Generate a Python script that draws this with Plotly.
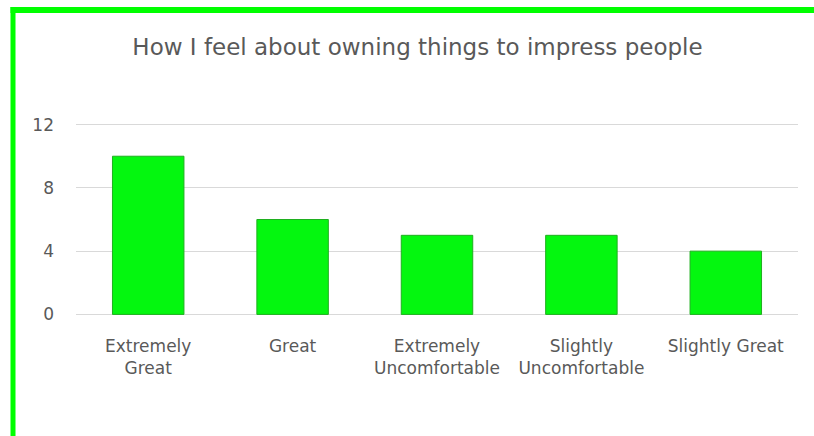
import plotly.graph_objects as go

categories = ["Extremely<br>Great", "Great", "Extremely<br>Uncomfortable", "Slightly<br>Uncomfortable", "Slightly Great"]
values = [10, 6, 5, 5, 4]
y_ticks = [0, 4, 8, 12]
title_text = "How I feel about owning things to impress people"

W, H = 814, 436
K = 189 / 12.0            # pixels per unit on the y axis
PAD = 0.1                 # small range padding so the edge gridlines show
L, R = 76, 16
T = 125 - PAD * K
B = 436 - 314 - PAD * K
pw, ph = W - L - R, H - T - B

def px_x(x):
    return (x - L) / pw

def px_y(y):
    return (H - B - y) / ph

FONT = "DejaVu Sans"

fig = go.Figure(go.Bar(
    x=categories, y=values,
    marker=dict(color="#04F70F", line=dict(color="#1FAF1F", width=1)),
    width=0.495,
))

fig.update_layout(
    width=W, height=H,
    margin=dict(l=L, r=R, t=T, b=B),
    paper_bgcolor="white", plot_bgcolor="white",
    showlegend=False,
    title=dict(text=title_text, x=px_x(417.5), xref="paper", xanchor="center",
               y=1 - 47 / H, yref="container", yanchor="middle",
               font=dict(family=FONT, size=23, color="#595959")),
    font=dict(family=FONT, color="#595959", size=17),
    shapes=[
        dict(type="line", xref="paper", yref="paper", x0=px_x(13), x1=px_x(13),
             y0=px_y(8), y1=px_y(440), line=dict(color="#00FF00", width=5)),
        dict(type="line", xref="paper", yref="paper", x0=px_x(10.5), x1=px_x(820),
             y0=px_y(11), y1=px_y(11), line=dict(color="#00FF00", width=6)),
    ],
)
fig.update_xaxes(showgrid=False, showline=False, ticks="", ticklabelstandoff=int(round(20 - PAD * K)),
                 tickfont=dict(family=FONT, size=17, color="#595959"))
fig.update_yaxes(range=[-PAD, 12 + PAD], tickvals=y_ticks, showgrid=True, gridcolor="#D9D9D9",
                 gridwidth=1, zeroline=True, zerolinecolor="#D9D9D9", zerolinewidth=1,
                 showline=False, ticks="",
                 ticklabelstandoff=21, tickfont=dict(family=FONT, size=17, color="#595959"))

fig.write_html("out.html")
